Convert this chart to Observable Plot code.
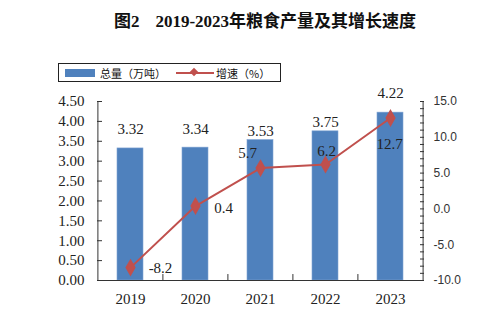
<!DOCTYPE html>
<html><head><meta charset="utf-8">
<script src="https://cdn.jsdelivr.net/npm/d3@7"></script>
<script src="https://cdn.jsdelivr.net/npm/@observablehq/plot@0.6"></script>
<style>
body{margin:0;background:#fff;}
#wrap{position:relative;width:499px;height:331px;overflow:hidden;}
#title{position:absolute;left:0;top:7px;width:530px;text-align:center;font:bold 17px "Liberation Serif","Noto Sans CJK SC",serif;color:#111;white-space:nowrap;}
#title .gap{display:inline-block;width:16px;}
#legend{position:absolute;left:58px;top:63px;width:223px;height:19px;border:1px solid #222;box-sizing:border-box;font:11px "Noto Sans CJK SC",sans-serif;color:#111;}
#legend .sw{position:absolute;top:5px;left:6px;width:30px;height:8px;background:#4F81BD;}
#legend .t1{position:absolute;left:41px;top:1px;}
#legend .ln{position:absolute;left:117px;top:8px;width:38px;height:2px;background:#C0504D;}
#legend .dm{position:absolute;left:132px;top:5px;width:6px;height:6px;background:#C0504D;transform:rotate(45deg);}
#legend .t2{position:absolute;left:157px;top:1px;}
#chart{position:absolute;left:0;top:0;}
</style></head>
<body>
<div id="wrap">
<div id="chart"></div>
<div id="title">图2<span class="gap"></span>2019-2023年粮食产量及其增长速度</div>
<div id="legend"><div class="sw"></div><span class="t1">总量（万吨）</span><div class="ln"></div><div class="dm"></div><span class="t2">增速（%）</span></div>
</div>
<script>
const years = ["2019","2020","2021","2022","2023"];
const totals = [3.32, 3.34, 3.53, 3.75, 4.22];
const growth = [-8.2, 0.4, 5.7, 6.2, 12.7];
const leftTicks = [0,0.5,1,1.5,2,2.5,3,3.5,4,4.5];
const rightTicks = [-10,-5,0,5,10,15];

const W = 499, H = 331, mL = 97, mR = 76, mT = 101, mB = 51;
const yMax = 4.5, gMin = -10, gMax = 15;
const g2y = g => (g - gMin) / (gMax - gMin) * yMax;
const y2g = y => y / yMax * (gMax - gMin) + gMin;
const step = (W - mL - mR) / years.length;

const data = years.map((year, i) => ({year, total: totals[i], growth: growth[i], gy: g2y(growth[i]), i}));

const barLabelDy = [-19, -18, -9, -9, -19];
const lineLabelOff = [[30,1],[28,2],[-13,-15],[1,-13],[-1,26]];
const serif = "Liberation Serif, Times New Roman, serif";
const sans = "Liberation Sans, Arial, sans-serif";

const marks = [
  Plot.barY(data, {x: "year", y: "total", fill: "#4F81BD", stroke: "#7FA3D3", strokeWidth: 0.6}),
  Plot.ruleY([0], {stroke: "#333"}),
  Plot.ruleX([years[0]], {dx: -step/2, y1: 0, y2: yMax, stroke: "#333"}),
  Plot.ruleX([years[years.length-1]], {dx: step/2, y1: 0, y2: yMax, stroke: "#333"}),
  Plot.ruleX(years.slice(1), {dx: -step/2, y1: 0, y2: 0.15, stroke: "#333"}),
  Plot.axisY(leftTicks, {anchor: "left", tickSize: 0, tickPadding: 13, tickFormat: d3.format(".2f"), fontFamily: serif, fontSize: 15, fill: "#222", label: null}),
  Plot.axisY(leftTicks, {anchor: "left", tickSize: 5, dx: 5, tickFormat: () => "", label: null, stroke: "#333"}),
  Plot.axisY(rightTicks.map(g2y), {anchor: "right", tickSize: 0, tickPadding: 10, tickFormat: y => y2g(y).toFixed(1), fontFamily: sans, fontSize: 12, fill: "#333", label: null}),
  Plot.axisY(d3.range(gMin, gMax + 1, 1).map(g2y), {anchor: "right", tickSize: 4, dx: -4, tickFormat: () => "", label: null, stroke: "#333"}),
  Plot.axisX({tickSize: 0, tickPadding: 13, fontFamily: serif, fontSize: 15, fill: "#222", label: null})
];
data.forEach((d, i) => {
  marks.push(Plot.text([d], {x: "year", y: "total", text: d => d.total.toFixed(2), dy: barLabelDy[i], fontFamily: serif, fontSize: 15, fill: "#222"}));
});
marks.push(Plot.line(data, {x: "year", y: "gy", stroke: "#C0504D", strokeWidth: 2}));
marks.push(Plot.dot(data, {x: "year", y: "gy", symbol: "diamond", r: 4.5, fill: "#C0504D", stroke: "#C0504D"}));
data.forEach((d, i) => {
  marks.push(Plot.text([d], {x: "year", y: "gy", text: d => d.growth.toFixed(1), dx: lineLabelOff[i][0], dy: lineLabelOff[i][1], fontFamily: serif, fontSize: 15, fill: "#222"}));
});

const chart = Plot.plot({
  width: W, height: H,
  marginLeft: mL, marginRight: mR, marginTop: mT, marginBottom: mB,
  x: {domain: years, paddingInner: 0.6, paddingOuter: 0.3, axis: null},
  y: {domain: [0, yMax], axis: null},
  style: {background: "transparent"},
  marks
});
document.getElementById("chart").appendChild(chart);
</script>
</body></html>
